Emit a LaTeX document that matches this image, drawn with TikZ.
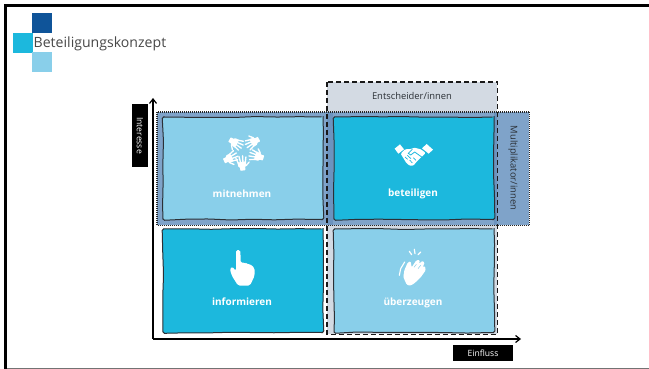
\documentclass[tikz,border=0pt]{standalone}
\usepackage{fontspec}
\setmainfont{Open Sans}
\usetikzlibrary{arrows.meta,decorations.pathmorphing}
\definecolor{dkblue}{HTML}{0F5499}
\definecolor{cyanblue}{HTML}{1CB8DD}
\definecolor{ltblue}{HTML}{89CFEA}
\definecolor{bandgrey}{HTML}{D3DAE3}
\definecolor{bandblue}{HTML}{7FA3C9}
\definecolor{overlapblue}{HTML}{6C93BE}
\definecolor{ink}{HTML}{2B3036}
\tikzset{
  logosq/.style={minimum size=20pt,inner sep=0pt,draw=none,anchor=north west},
  cardbox/.style={minimum width=160pt,minimum height=102.5pt,inner sep=0pt,anchor=north west,
    draw=ink,line width=1pt,decorate,
    decoration={random steps,segment length=22pt,amplitude=.55pt},rounded corners=1.5pt},
  cardlabel/.style={text=white,font=\fontsize{10}{11}\selectfont\bfseries},
  bandtext/.style={text=ink,font=\fontsize{9.4}{11}\selectfont},
  tagbox/.style={fill=black,text=white,inner sep=0pt,font=\fontsize{8.6}{10}\selectfont},
  axisline/.style={draw=black,line width=1.3pt,-{Straight Barb[length=4.5pt,width=7pt,line width=1.2pt]}},
}
\newcommand{\hshand}[3]{%
  \begin{scope}[shift={(#1,#2)},rotate=#3,scale=1.08]
    \fill[white,rounded corners=.5pt] (0,-2.4)--(3,-2.4)--(4,-3.8)--(8,-4.1)--(8,4.1)--(4,3.6)--(3,2.4)--(0,2.4)--cycle;
    \draw[white,line width=1.35pt,line cap=round] (7,-3.3) -- (12,-5) (7.5,-1.2) -- (13.5,-1.9) (7.5,1) -- (13.5,1.5) (7,3.1) -- (12,4.4);
    \draw[white,line width=1.35pt,line cap=round] (4,3.4) -- (7,6.8);
  \end{scope}}
\begin{document}
\begin{tikzpicture}[x=1pt,y=-1pt]
\useasboundingbox (0,0) rectangle (649,369);
\pgfmathsetseed{42}
% frame
\fill[black] (4,4) rectangle (649,7);
\fill[black] (4,4) rectangle (7,369);
\fill[black!55] (7,368) rectangle (649,369);
% logo
\node[logosq,fill=dkblue] (logoa) at (32,13) {};
\node[logosq,fill=cyanblue] (logob) at (13,33) {};
\node[logosq,fill=ltblue] (logoc) at (32,52) {};
\node[anchor=base west,inner sep=0pt,text=black!72,font=\fontsize{14.1}{16}\selectfont] (title) at (33.5,48) {Beteiligungskonzept};
% bands
\node[fill=bandgrey,draw=none,minimum width=170pt,minimum height=252pt,inner sep=0pt,anchor=north west] (decider) at (327,82) {};
\node[fill=bandblue,draw=none,minimum width=372pt,minimum height=113pt,inner sep=0pt,anchor=north west] (multi) at (157,112) {};
\fill[overlapblue] (327,112) rectangle (333,225);
\fill[overlapblue] (494,112) rectangle (497,225);
\draw[black!85,line width=1.1pt,dash pattern=on 1pt off 1pt] (multi.north west) rectangle (multi.south east);
% cards
\node[cardbox,fill=ltblue] (mit) at (162.5,116.5) {};
\node[cardbox,fill=cyanblue] (bet) at (333.5,116.5) {};
\node[cardbox,fill=cyanblue,minimum height=103.5pt] (inf) at (162.5,228.5) {};
\node[cardbox,fill=ltblue,minimum height=103.5pt] (ueb) at (333.5,228.5) {};
\draw[black!90,line width=1.2pt,dash pattern=on 5pt off 3pt] (decider.north west) rectangle (decider.south east);
% labels
\node[cardlabel] (l1) at (242,193.5) {mitnehmen};
\node[cardlabel] (l2) at (413,193.5) {beteiligen};
\node[cardlabel] (l3) at (242,302) {informieren};
\node[cardlabel] (l4) at (413,303) {überzeugen};
\node[bandtext] (et) at (412,95.5) {Entscheider/innen};
\node[bandtext,rotate=-90] (mt) at (513,168) {Multiplikator/innen};
% axes
\coordinate (org) at (153,339);
\coordinate (ytip) at (153,98);
\coordinate (xtip) at (521,339);
\draw[axisline] (org) -- (ytip);
\draw[axisline] (org) -- (xtip);
\node[tagbox,rotate=-90,minimum width=63pt,minimum height=16pt] (interesse) at (140,135.5) {Interesse};
\node[tagbox,minimum width=60pt,minimum height=16pt] (einfluss) at (483,353) {Einfluss};
% icon: star of hands
\hshand{229.5}{139.5}{-30}
\hshand{259}{139}{-152}
\hshand{263.5}{158}{164}
\hshand{243}{170.5}{98}
\hshand{224}{161}{25}
% icon: handshake
\begin{scope}[shift={(385,135)},scale=1/3]
  \fill[white] (29,41)--(45,28)--(57,43)--(40,56)--cycle;
  \fill[white] (111,40)--(125,27)--(144,44)--(131,56)--cycle;
  \fill[white,rounded corners=1pt] (47,56)--(60,43)--(78,42)--(88,38)--(108,43)--(122,54)--(96,79)--(85,92)--(74,92)--(64,84)--cycle;
  \draw[cyanblue,line width=.8pt] (82,43)--(70,55)--(77,60)--(89,51)--(113,68);
  \draw[cyanblue,line width=.7pt] (60,66)--(68,73) (67,61)--(78,71) (74,75)--(82,84) (85,68)--(93,76);
\end{scope}
% icon: pointing hand
\fill[white,rounded corners=1.6pt] (236,250)--(240.3,250)--(240.8,263)--(245,262.5)--(246.5,264)--(250,264)--(254.5,268)--(254.5,276)--(250,285.5)--(238,285.5)--(232,276)--(229.8,269)--(232,266.5)--(236,271)--cycle;
% icon: clapping hands
\begin{scope}[shift={(390,242)},scale=1/3]
  \fill[white,rounded corners=1pt] (50,128)--(40,105)--(43,85)--(53,62)--(62,58)--(65,76)--(79,55)--(89,54)--(88,66)--(95,57)--(104,61)--(98,76)--(105,72)--(107,85)--(92,106)--(72,125)--(60,131)--cycle;
  \draw[ltblue,line width=.5pt] (72,76)--(79,67) (84,80)--(92,70);
  \draw[white,line width=1.1pt,line cap=round] (44,60)--(32,80)--(28,100);
  \draw[white,line width=1.2pt,line cap=round] (58,28)--(65,38) (73,22)--(75,35) (92,30)--(84,38);
\end{scope}
\end{tikzpicture}
\end{document}
